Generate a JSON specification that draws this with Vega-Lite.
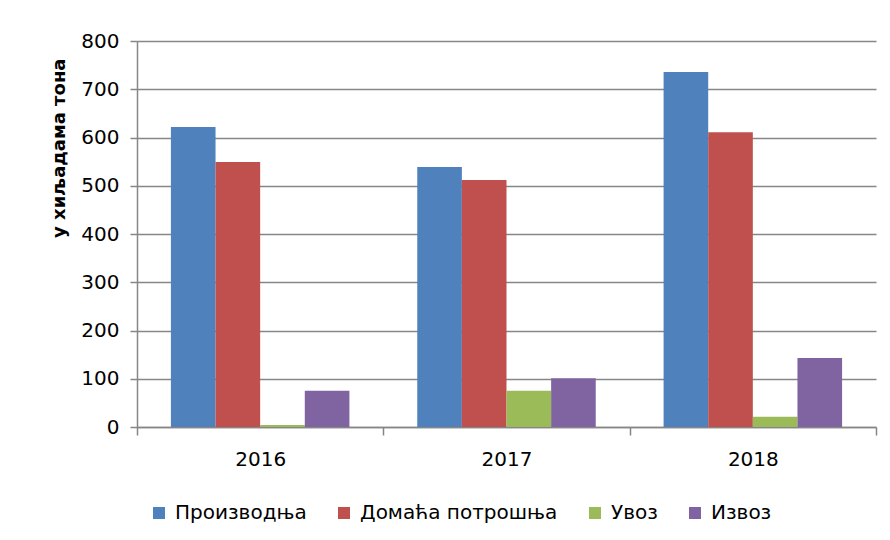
{
  "$schema": "https://vega.github.io/schema/vega-lite/v6.json",
  "width": 739,
  "height": 386,
  "autosize": "none",
  "padding": {"left": 137, "top": 41, "right": 14, "bottom": 113},
  "background": "white",
  "data": {
    "values": [
      {"year": "2016", "series": "Производња", "value": 622},
      {"year": "2016", "series": "Домаћа потрошња", "value": 549},
      {"year": "2016", "series": "Увоз", "value": 4},
      {"year": "2016", "series": "Извоз", "value": 75},
      {"year": "2017", "series": "Производња", "value": 539},
      {"year": "2017", "series": "Домаћа потрошња", "value": 512},
      {"year": "2017", "series": "Увоз", "value": 75},
      {"year": "2017", "series": "Извоз", "value": 101},
      {"year": "2018", "series": "Производња", "value": 736},
      {"year": "2018", "series": "Домаћа потрошња", "value": 611},
      {"year": "2018", "series": "Увоз", "value": 21},
      {"year": "2018", "series": "Извоз", "value": 143}
    ]
  },
  "mark": {"type": "bar"},
  "encoding": {
    "x": {
      "field": "year", "type": "nominal",
      "scale": {"paddingInner": 0, "paddingOuter": 0},
      "axis": {
        "title": null, "labelAngle": 0, "tickBand": "extent", "grid": false,
        "domainColor": "#868686", "domainWidth": 1.5, "tickColor": "#868686", "tickWidth": 1.5, "tickSize": 8,
        "labelFont": "DejaVu Sans", "labelFontSize": 20, "labelColor": "#000000", "labelPadding": 14
      }
    },
    "xOffset": {
      "field": "series", "type": "nominal",
      "sort": ["Производња", "Домаћа потрошња", "Увоз", "Извоз"],
      "scale": {"paddingInner": 0, "paddingOuter": 0.76}
    },
    "y": {
      "field": "value", "type": "quantitative",
      "scale": {"domain": [0, 800], "nice": false},
      "axis": {
        "title": "у хиљадама тона", "titleAnchor": "end", "titleY": 17, "titleFont": "DejaVu Sans", "titleFontSize": 18,
        "titleFontWeight": "bold", "titleColor": "#000000", "titlePadding": 12,
        "values": [0, 100, 200, 300, 400, 500, 600, 700, 800],
        "grid": true, "gridColor": "#868686", "gridWidth": 1.5,
        "domainColor": "#868686", "domainWidth": 1.5, "tickColor": "#868686", "tickWidth": 1.5, "tickSize": 7,
        "labelFont": "DejaVu Sans", "labelFontSize": 20, "labelColor": "#000000", "labelPadding": 11
      }
    },
    "color": {
      "field": "series", "type": "nominal",
      "sort": ["Производња", "Домаћа потрошња", "Увоз", "Извоз"],
      "scale": {
        "domain": ["Производња", "Домаћа потрошња", "Увоз", "Извоз"],
        "range": ["#4F81BD", "#C0504D", "#9BBB59", "#8064A2"]
      },
      "legend": {
        "title": null, "orient": "none", "direction": "horizontal",
        "legendX": 12, "legendY": 462,
        "symbolType": "square", "symbolSize": 144, "symbolStrokeWidth": 0,
        "labelFont": "DejaVu Sans", "labelFontSize": 20, "labelColor": "#000000", "labelLimit": 400,
        "columnPadding": 27, "labelOffset": 6
      }
    }
  },
  "config": {
    "view": {"stroke": null}
  }
}
